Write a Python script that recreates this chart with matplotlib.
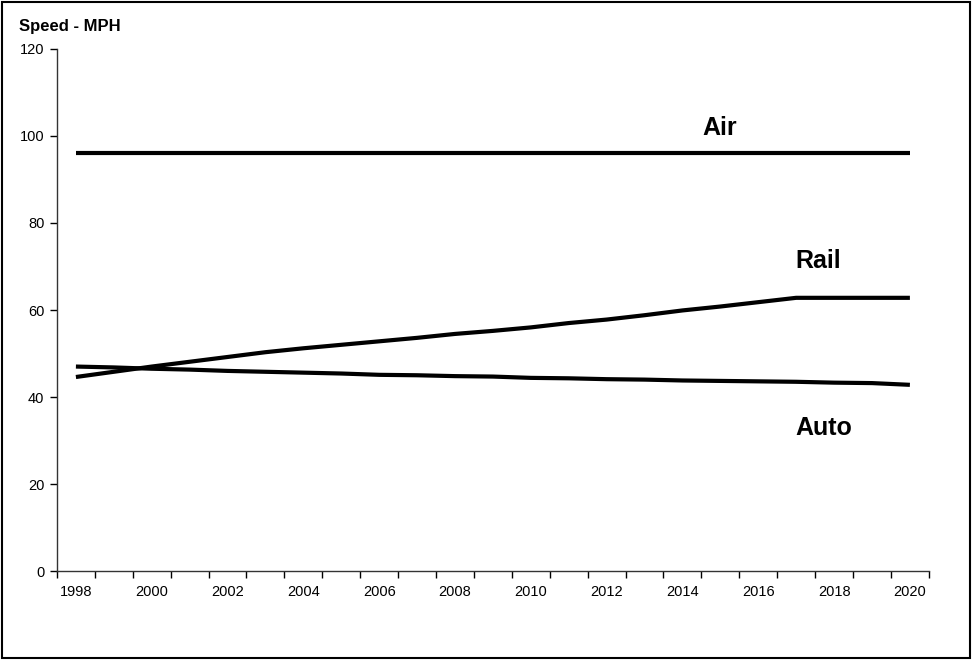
import matplotlib
matplotlib.use("Agg")
import matplotlib.pyplot as plt
import numpy as np
from matplotlib.patches import Rectangle

plt.rcParams["font.family"] = ["Liberation Sans", "DejaVu Sans"]

years = list(range(1998, 2021))
air = [96] * 23
rail = [44.6, 45.8, 47.0, 48.1, 49.2, 50.3, 51.2, 52.0, 52.8, 53.6, 54.5, 55.2,
        56.0, 57.0, 57.8, 58.8, 59.9, 60.8, 61.8, 62.8, 62.8, 62.8, 62.8]
auto = [47.0, 46.8, 46.5, 46.3, 46.0, 45.8, 45.6, 45.4, 45.1, 45.0, 44.8, 44.7,
        44.4, 44.3, 44.1, 44.0, 43.8, 43.7, 43.6, 43.5, 43.3, 43.2, 42.8]
series_labels = ["Air", "Rail", "Auto"]
y_ticks = [0, 20, 40, 60, 80, 100, 120]

fig = plt.figure(figsize=(9.72, 6.6), dpi=100)
ax = fig.add_axes([0.0586, 0.1348, 0.897, 0.791])

x = np.arange(len(years))
for vals in (air, rail, auto):
    ax.plot(x, vals, color="black", lw=3.0, solid_capstyle="butt")

ax.set_xlim(-0.5, len(years) - 0.5)
ax.set_ylim(0, 120)
ax.set_yticks(y_ticks)
ax.set_xticks(x[::2])
ax.set_xticklabels([str(y) for y in years[::2]])
ax.set_xticks(np.arange(-0.5, len(years)), minor=True)
ax.tick_params(axis="x", which="major", length=0, pad=10, labelsize=10.5)
ax.tick_params(axis="x", which="minor", length=5, width=1, direction="out")
ax.tick_params(axis="y", length=5, width=1, direction="out", labelsize=10.5, pad=4)

for side in ("top", "right"):
    ax.spines[side].set_visible(False)
for side in ("left", "bottom"):
    ax.spines[side].set_color("#333333")
    ax.spines[side].set_linewidth(1)

fig.text(19 / 972, 1 - 31 / 660, "Speed - MPH", fontsize=12, fontweight="bold",
         ha="left", va="baseline")

label_pos = [(702, 135), (795, 268), (795, 435)]
for lab, (px, py) in zip(series_labels, label_pos):
    fig.text(px / 972, 1 - py / 660, lab, fontsize=18, fontweight="bold",
             ha="left", va="baseline")

fig.patches.append(Rectangle((2 / 972, 2 / 660), 968 / 972, 656 / 660,
                             transform=fig.transFigure, fill=False,
                             edgecolor="black", lw=1.5))

fig.savefig("out.png", dpi=100)
